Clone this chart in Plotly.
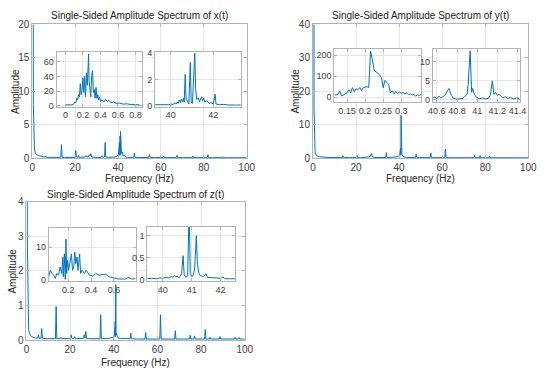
import plotly.graph_objects as go

W, H = 550, 378
LINE = '#0072BD'
FONT = 'Liberation Sans, Arial, sans-serif'

# ---------------- data (frequency Hz, amplitude) ----------------
x_main = [(0, 25), (0.25, 70), (0.5, 8), (0.8, 2), (1.0, 1.2), (1.5, 0.7), (2, 0.5), (3, 0.35),
          (4, 0.25), (5, 0.2), (6.0, 0.12), (6.3, 0.3), (6.6, 0.1), (8, 0.1), (10, 0.08), (12, 0.1),
          (13.3, 0.1), (13.6, 2.0), (13.9, 0.1), (15, 0.08), (17, 0.1), (19, 0.08), (20.0, 0.1),
          (20.3, 1.1), (20.6, 0.15), (21.3, 0.1), (21.6, 0.4), (21.9, 0.1), (23, 0.12), (24.6, 0.15),
          (25.0, 0.35), (25.4, 0.15), (26.2, 0.2), (26.6, 0.5), (27.0, 0.3), (27.3, 0.65), (27.7, 0.15),
          (29, 0.1), (30.5, 0.08), (32.2, 0.1), (32.5, 0.35), (32.8, 0.1), (33.7, 0.15), (34.0, 2.3),
          (34.3, 0.15), (35.5, 0.1), (37, 0.08), (38.5, 0.15), (39.5, 0.3), (40.2, 0.5), (40.7, 2.4),
          (40.85, 0.4), (40.95, 3.3), (41.05, 0.5), (41.15, 4.0), (41.3, 0.8), (41.6, 0.7), (42.1, 0.9),
          (42.3, 0.3), (43.0, 0.4), (43.5, 0.15), (44.5, 0.1), (46, 0.08), (47.3, 0.1), (47.6, 0.7),
          (47.9, 0.1), (50, 0.08), (52, 0.07), (54.3, 0.08), (54.6, 0.5), (54.9, 0.08), (57, 0.06),
          (59, 0.07), (61.0, 0.07), (61.3, 0.3), (61.6, 0.07), (63, 0.06), (65, 0.06), (67.2, 0.06),
          (67.5, 0.4), (67.8, 0.06), (70, 0.05), (72, 0.06), (74.6, 0.05), (74.9, 0.3), (75.2, 0.05),
          (77, 0.05), (79, 0.05), (81.6, 0.05), (81.9, 0.5), (82.2, 0.05), (84, 0.05), (86, 0.04),
          (88.6, 0.05), (88.9, 0.2), (89.2, 0.05), (91, 0.04), (93, 0.04), (95.6, 0.04), (95.9, 0.15),
          (96.2, 0.04), (98, 0.04), (100, 0.04)]

x_low = [(0, 1), (0.03, 0.8), (0.06, 1), (0.09, 1.5), (0.1, 3), (0.11, 5), (0.12, 4), (0.13, 10),
         (0.14, 8), (0.15, 15), (0.16, 12), (0.17, 30), (0.18, 15), (0.19, 22), (0.2, 38), (0.21, 18),
         (0.22, 40), (0.23, 12), (0.24, 45), (0.25, 28), (0.26, 55), (0.265, 71), (0.27, 35), (0.28, 20),
         (0.29, 12), (0.3, 40), (0.31, 48), (0.32, 18), (0.33, 22), (0.34, 10), (0.35, 25), (0.36, 10),
         (0.37, 15), (0.38, 8), (0.39, 12), (0.4, 6), (0.42, 8), (0.44, 5), (0.46, 8), (0.48, 6),
         (0.5, 7), (0.52, 4), (0.55, 5), (0.58, 3), (0.62, 3.5), (0.66, 2), (0.7, 2.5), (0.75, 1.5),
         (0.8, 1.5), (0.85, 1)]

x_high = [(39.26, 0.1), (39.5, 0.08), (39.7, 0.12), (39.9, 0.1), (40.0, 0.15), (40.1, 0.12), (40.2, 0.25),
          (40.25, 0.15), (40.3, 0.3), (40.35, 0.2), (40.4, 0.45), (40.45, 0.25), (40.5, 0.5), (40.55, 0.3),
          (40.6, 0.6), (40.63, 0.3), (40.68, 2.4), (40.72, 0.5), (40.78, 0.4), (40.85, 0.15), (40.92, 3.3),
          (40.96, 0.3), (41.02, 0.2), (41.13, 4.0), (41.17, 1.3), (41.22, 0.5), (41.3, 0.6), (41.35, 0.3),
          (41.45, 0.7), (41.5, 0.4), (41.55, 0.6), (41.6, 0.3), (41.7, 0.4), (41.8, 0.2), (41.9, 0.25),
          (42.0, 0.15), (42.09, 0.9), (42.13, 0.15), (42.3, 0.1), (42.5, 0.12), (42.7, 0.08), (42.9, 0.1),
          (43.1, 0.07), (43.3, 0.08)]

y_main = [(0, 45), (0.22, 220), (0.5, 15), (0.8, 3), (1.0, 1.5), (1.5, 0.9), (2, 0.6), (3, 0.4), (4, 0.3),
          (6, 0.2), (8, 0.15), (10, 0.12), (13.6, 0.12), (13.9, 0.7), (14.2, 0.12), (17, 0.1), (20.1, 0.12),
          (20.4, 0.8), (20.7, 0.12), (21.8, 0.1), (22.1, 0.3), (22.4, 0.1), (24.5, 0.15), (26.5, 0.4),
          (27.2, 1.3), (27.6, 0.3), (28.5, 0.15), (31, 0.1), (33.8, 0.15), (34.1, 1.6), (34.4, 0.15),
          (36, 0.2), (38, 0.2), (39.5, 0.4), (40.3, 1.0), (40.7, 3.0), (40.8, 0.8), (40.93, 12.8),
          (41.0, 2.0), (41.15, 5.0), (41.3, 1.0), (41.7, 0.5), (42.5, 0.3), (44, 0.15), (47.6, 0.12),
          (47.9, 1.1), (48.2, 0.12), (51, 0.1), (54.4, 0.1), (54.7, 1.5), (55.0, 0.1), (58, 0.1),
          (61.2, 0.1), (61.5, 2.7), (61.8, 0.1), (65, 0.08), (67.7, 0.08), (68.0, 0.3), (68.3, 0.08),
          (72, 0.08), (74.7, 0.08), (75.0, 0.8), (75.3, 0.08), (77.3, 0.08), (77.6, 0.8), (77.9, 0.08),
          (81.6, 0.08), (81.9, 0.5), (82.2, 0.08), (86, 0.06), (88.7, 0.06), (89.0, 0.2), (89.3, 0.06),
          (95, 0.06), (100, 0.05)]

y_low = [(0.115, 10), (0.12, 12), (0.125, 12), (0.13, 28), (0.135, 5), (0.14, 10), (0.145, 15), (0.15, 20),
         (0.155, 35), (0.16, 20), (0.165, 45), (0.17, 25), (0.175, 40), (0.18, 35), (0.185, 45), (0.19, 30),
         (0.195, 45), (0.2, 48), (0.205, 50), (0.21, 45), (0.215, 220), (0.22, 180), (0.225, 130),
         (0.23, 120), (0.235, 115), (0.24, 105), (0.245, 95), (0.25, 45), (0.255, 80), (0.26, 70),
         (0.265, 60), (0.27, 20), (0.275, 30), (0.28, 15), (0.285, 28), (0.29, 15), (0.295, 25), (0.3, 18),
         (0.305, 22), (0.31, 15), (0.315, 20), (0.32, 12), (0.325, 15), (0.33, 10), (0.335, 12), (0.34, 5),
         (0.345, 10), (0.35, 8), (0.355, 12)]

y_high = [(40.56, 0.5), (40.58, 0.8), (40.6, 0.3), (40.62, 1.0), (40.64, 0.5), (40.66, 0.8), (40.68, 1.2),
          (40.7, 2.2), (40.72, 3.0), (40.74, 1.5), (40.76, 0.5), (40.78, 0.3), (40.8, 0.2), (40.83, 0.3),
          (40.86, 0.4), (40.88, 1.0), (40.9, 1.5), (40.91, 4.0), (40.93, 12.8), (40.945, 2.0), (40.955, 3.0),
          (40.97, 1.5), (40.99, 0.8), (41.02, 0.3), (41.05, 0.5), (41.08, 0.3), (41.11, 0.4), (41.13, 1.2),
          (41.15, 5.0), (41.165, 1.5), (41.18, 2.0), (41.2, 1.2), (41.22, 1.5), (41.25, 0.6), (41.28, 0.8),
          (41.3, 0.4), (41.33, 0.6), (41.36, 0.3), (41.39, 0.5), (41.42, 0.4)]

z_main = [(0, 5), (0.18, 12.5), (0.4, 3), (0.7, 0.6), (1.0, 0.3), (1.5, 0.18), (2, 0.12), (3, 0.08),
          (4, 0.06), (5.2, 0.06), (5.5, 0.15), (5.8, 0.05), (6.7, 0.05), (7.0, 0.33), (7.3, 0.05), (9, 0.04),
          (11, 0.04), (13.3, 0.04), (13.6, 0.97), (13.9, 0.04), (15.5, 0.04), (15.8, 0.08), (16.1, 0.04),
          (18, 0.04), (20.2, 0.05), (20.5, 0.15), (20.8, 0.05), (21.8, 0.05), (22.1, 0.1), (22.4, 0.04),
          (24, 0.04), (26.2, 0.05), (26.5, 0.15), (26.8, 0.06), (27.2, 0.25), (27.5, 0.05), (29, 0.04),
          (31.5, 0.04), (33.7, 0.04), (34.0, 0.73), (34.3, 0.04), (36, 0.04), (38, 0.05), (39.5, 0.08),
          (40.2, 0.1), (40.7, 0.55), (40.8, 0.1), (40.93, 1.6), (41.02, 0.15), (41.15, 1.0), (41.3, 0.2),
          (41.5, 0.12), (42, 0.06), (43, 0.05), (45, 0.04), (47.5, 0.04), (47.8, 0.2), (48.1, 0.04),
          (51, 0.03), (54.3, 0.03), (54.6, 0.22), (54.9, 0.03), (58, 0.03), (61.1, 0.03), (61.4, 0.73),
          (61.7, 0.03), (65, 0.03), (67.9, 0.03), (68.2, 0.27), (68.5, 0.03), (72, 0.03), (74.7, 0.03),
          (75.0, 0.14), (75.3, 0.03), (76.7, 0.03), (77.0, 0.12), (77.3, 0.03), (81.6, 0.03), (81.9, 0.3),
          (82.2, 0.03), (83.8, 0.03), (84.1, 0.08), (84.4, 0.03), (88.4, 0.03), (88.7, 0.1), (89.0, 0.03),
          (95.3, 0.03), (95.6, 0.08), (95.9, 0.03), (97.2, 0.03), (97.5, 0.07), (97.8, 0.03), (100, 0.03)]

z_low = [(0.029, 1), (0.043, 3), (0.058, 2), (0.072, 1.5), (0.086, 0.5), (0.1, 2), (0.115, 1.5), (0.129, 4),
         (0.143, 2), (0.152, 7), (0.157, 1), (0.166, 8), (0.174, 0.2), (0.18, 12.5), (0.186, 2), (0.194, 6),
         (0.203, 3), (0.214, 5), (0.228, 8), (0.237, 3), (0.248, 4), (0.257, 8.5), (0.266, 5), (0.277, 7),
         (0.285, 3), (0.3, 8), (0.308, 2), (0.322, 3), (0.342, 2), (0.357, 3), (0.385, 1.5), (0.414, 1.2),
         (0.442, 2), (0.47, 1.5), (0.5, 1.7), (0.528, 1.8), (0.556, 1), (0.585, 0.8), (0.613, 0.5),
         (0.642, 0.3), (0.7, 0.3), (0.727, 0.8), (0.755, 0.3), (0.79, 0.4)]

z_high = [(39.46, 0.03), (39.6, 0.04), (39.8, 0.03), (39.9, 0.05), (40.0, 0.04), (40.1, 0.06), (40.2, 0.05),
          (40.3, 0.08), (40.35, 0.06), (40.4, 0.1), (40.45, 0.07), (40.5, 0.09), (40.55, 0.05), (40.6, 0.08),
          (40.65, 0.15), (40.7, 0.55), (40.74, 0.12), (40.8, 0.06), (40.86, 0.1), (40.91, 1.6), (40.95, 0.15),
          (41.0, 0.08), (41.05, 0.1), (41.1, 0.25), (41.16, 1.0), (41.2, 0.35), (41.25, 0.15), (41.3, 0.1),
          (41.4, 0.08), (41.5, 0.14), (41.55, 0.06), (41.7, 0.05), (41.8, 0.04), (41.9, 0.05), (42.0, 0.04),
          (42.08, 0.07), (42.15, 0.03), (42.3, 0.03), (42.5, 0.03)]

# ---------------- tick labels ----------------
main_xticks = [0, 20, 40, 60, 80, 100]
x_yticks = [0, 5, 10, 15, 20]
y_yticks = [0, 10, 20, 30, 40]
z_yticks = [0, 1, 2, 3, 4]
xlow_xticks = [0, 0.2, 0.4, 0.6, 0.8]
xlow_yticks = [0, 20, 40, 60]
xhigh_xticks = [40, 42]
xhigh_yticks = [0, 2, 4]
ylow_xticks = [0.15, 0.2, 0.25, 0.3]
ylow_yticks = [0, 100, 200]
yhigh_xticks = [40.6, 40.8, 41, 41.2, 41.4]
yhigh_yticks = [0, 5, 10]
zlow_xticks = [0.2, 0.4, 0.6]
zlow_yticks = [0, 10]
zhigh_xticks = [40, 41, 42]
zhigh_yticks = [0, 0.5, 1]

titles = ['Single-Sided Amplitude Spectrum of x(t)',
          'Single-Sided Amplitude Spectrum of y(t)',
          'Single-Sided Amplitude Spectrum of z(t)']


def fmt(v):
    return '%g' % v


# panels: data, x px (left,right), y px (top,bottom), xrange, yrange, xticks, yticks, tick font size
panels = [
    (x_main, (28, 248), (19, 157), [0, 100], [0, 20], main_xticks, x_yticks, 10),
    (x_low, (53, 141), (48, 104), [-0.1, 0.88], [-1.5, 73], xlow_xticks, xlow_yticks, 9),
    (x_high, (154, 242), (48, 104), [39.26, 43.3], [-0.05, 4.05], xhigh_xticks, xhigh_yticks, 9),
    (y_main, (316, 537), (19, 157), [0, 100], [0, 40], main_xticks, y_yticks, 10),
    (y_low, (338, 427), (44, 99), [0.115, 0.355], [-23, 232], ylow_xticks, ylow_yticks, 9),
    (y_high, (439, 528), (44, 99), [40.56, 41.42], [-0.5, 13.4], yhigh_xticks, yhigh_yticks, 9),
    (z_main, (22, 246), (202, 345), [0, 100], [0, 4], main_xticks, z_yticks, 10),
    (z_low, (45, 134), (229, 284), [0.03, 0.79], [-0.3, 16], zlow_xticks, zlow_yticks, 9),
    (z_high, (146, 236), (228, 284), [39.46, 42.5], [-0.02, 1.2], zhigh_xticks, zhigh_yticks, 9),
]

fig = go.Figure()
layout = dict(width=W, height=H, margin=dict(l=0, r=0, t=0, b=0),
              paper_bgcolor='white', plot_bgcolor='white', showlegend=False,
              font=dict(family=FONT, color='#262626'))

AXC = '#b3b3b3'
GRID = '#e6e6e6'
shapes = []

for i, (data, (xl, xr), (yt, yb), xr_, yr_, xt, yt_, fs) in enumerate(panels):
    n = i + 1
    sfx = '' if n == 1 else str(n)
    f = [p[0] for p in data]
    a = [p[1] for p in data]
    fig.add_trace(go.Scatter(x=f, y=a, mode='lines', line=dict(color=LINE, width=1),
                             xaxis='x' + sfx, yaxis='y' + sfx, hoverinfo='skip'))
    common = dict(showline=True, linecolor=AXC, linewidth=1, mirror='ticks', ticks='inside',
                  ticklen=3, tickcolor=AXC, showgrid=True, gridcolor=GRID, gridwidth=1,
                  zeroline=False, tickfont=dict(family=FONT, size=fs, color='#404040'))
    layout['xaxis' + sfx] = dict(common, domain=[xl / W, xr / W], range=xr_, anchor='y' + sfx,
                                 tickmode='array', tickvals=xt, ticktext=[fmt(v) for v in xt])
    layout['yaxis' + sfx] = dict(common, domain=[1 - yb / H, 1 - yt / H], range=yr_, anchor='x' + sfx,
                                 tickmode='array', tickvals=yt_, ticktext=[fmt(v) for v in yt_])
    if fs == 9:
        # opaque white backing for inset so the parent grid does not show through
        shapes.append(dict(type='rect', xref='x' + sfx, yref='y' + sfx, layer='below',
                           x0=xr_[0] - (xr_[1] - xr_[0]), x1=xr_[1] + (xr_[1] - xr_[0]),
                           y0=yr_[0] - (yr_[1] - yr_[0]), y1=yr_[1] + (yr_[1] - yr_[0]),
                           fillcolor='white', line=dict(width=0)))

ann = []
mains = [((28, 248), (19, 157), 10, 178, 10),
         ((316, 537), (19, 157), 298, 178, 10),
         ((22, 246), (202, 345), 8, 368, 195)]
for t, ((xl, xr), (yt, yb), ax_x, fl_y, ti_y) in zip(titles, mains):
    cx = (xl + xr) / 2 / W
    ann.append(dict(text=t, x=cx, y=1 - ti_y / H, xref='paper', yref='paper', showarrow=False,
                    xanchor='center', yanchor='middle', font=dict(size=10, color='#1a1a1a')))
    ann.append(dict(text='Frequency (Hz)', x=cx, y=1 - fl_y / H, xref='paper', yref='paper',
                    showarrow=False, xanchor='center', yanchor='middle',
                    font=dict(size=10, color='#262626')))
    ann.append(dict(text='Amplitude', x=ax_x / W, y=1 - (yt + yb) / 2 / H, xref='paper', yref='paper',
                    showarrow=False, xanchor='center', yanchor='middle', textangle=-90,
                    font=dict(size=10, color='#262626')))
layout['annotations'] = ann
layout['shapes'] = shapes

fig.update_layout(**layout)
fig.write_html('out.html', config={'displayModeBar': False},
               post_script="document.body.style.margin='0';document.body.style.padding='0';")
